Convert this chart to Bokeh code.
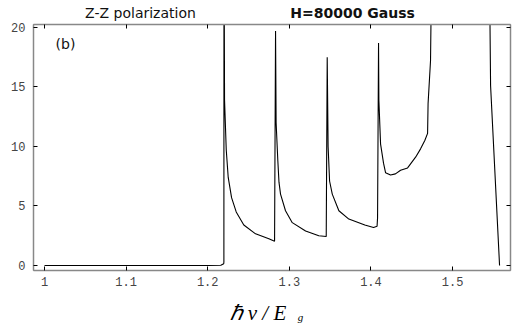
from bokeh.plotting import figure
from bokeh.models import LinearAxis, Label, Range1d
from bokeh.embed import file_html
from bokeh.resources import INLINE

# photon energy (hbar*nu / Eg)
x = [1.0, 1.2, 1.216, 1.2196, 1.2198, 1.2199, 1.2206, 1.2227, 1.2251, 1.2292, 1.2349,
     1.2442, 1.2586, 1.2749, 1.2819, 1.2831, 1.2838, 1.2859, 1.2873, 1.2892, 1.2953,
     1.3036, 1.3199, 1.3361, 1.3452, 1.3464, 1.3475, 1.3493, 1.3526, 1.3607, 1.3729,
     1.3925, 1.4032, 1.4075, 1.4081, 1.4093, 1.4097, 1.4118, 1.4154, 1.4179, 1.4240,
     1.4300, 1.4363, 1.4449, 1.4547, 1.4608, 1.4660, 1.4694, 1.4700, 1.4730, 1.4752,
     1.5445, 1.5466, 1.5576]
# absorption (arb. units)
y = [0.0, 0.0, 0.02, 0.15, 0.3, 30.0, 13.9, 9.7, 7.4, 5.7, 4.5,
     3.4, 2.66, 2.24, 2.04, 19.7, 12.0, 8.8, 7.0, 6.0, 4.6,
     3.6, 2.9, 2.5, 2.44, 17.5, 10.0, 7.1, 6.0, 4.6, 3.9,
     3.4, 3.2, 3.3, 4.0, 18.7, 13.9, 10.2, 8.6, 7.8, 7.6,
     7.7, 8.0, 8.2, 9.1, 9.8, 10.5, 11.1, 13.6, 17.2, 30.0,
     30.0, 15.1, 0.0]

x_ticks = [1.0, 1.1, 1.2, 1.3, 1.4, 1.5]
x_tick_labels = ["1", "1.1", "1.2", "1.3", "1.4", "1.5"]
y_ticks = [0, 5, 10, 15, 20]
y_tick_labels = ["0", "5", "10", "15", "20"]

title_left = "Z-Z polarization"
title_right = "H=80000 Gauss"
panel_tag = "(b)"
xlabel_main = "ℏ ν / E"
xlabel_sub = "g"

p = figure(width=519, height=331, output_backend="svg", toolbar_location=None,
           x_range=Range1d(0.9865, 1.571), y_range=Range1d(-0.42, 20.25),
           min_border_left=33, min_border_right=9, min_border_top=24,
           min_border_bottom=61)
p.background_fill_color = "white"
p.border_fill_color = "white"
p.outline_line_color = "#888888"
p.outline_line_width = 1
p.xgrid.visible = False
p.ygrid.visible = False

p.line(x, y, line_color="black", line_width=1.1)

def style_axis(ax, ticks, labels, show_labels):
    ax.ticker = ticks
    ax.ticker.num_minor_ticks = 5
    ax.axis_line_color = "#888888"
    ax.axis_line_width = 1.5
    ax.major_tick_in = 4
    ax.major_tick_out = 0
    ax.minor_tick_in = 2
    ax.minor_tick_out = 0
    ax.major_tick_line_color = "black"
    ax.minor_tick_line_color = "black"
    if show_labels:
        ax.major_label_overrides = {t: l for t, l in zip(ticks, labels)}
        ax.major_label_text_font = "Liberation Mono"
        ax.major_label_text_font_size = "12px"
        ax.major_label_text_color = "#444444"
    else:
        ax.major_label_text_color = None
        ax.major_label_standoff = 0

xa = p.xaxis[0]
ya = p.yaxis[0]
style_axis(xa, x_ticks, x_tick_labels, True)
style_axis(ya, y_ticks, y_tick_labels, True)
xa.major_label_standoff = 6
ya.major_label_standoff = 8

top_ax = LinearAxis()
right_ax = LinearAxis()
style_axis(top_ax, x_ticks, x_tick_labels, False)
style_axis(right_ax, y_ticks, y_tick_labels, False)
p.add_layout(top_ax, "above")
p.add_layout(right_ax, "right")

# in-frame panel tag
p.add_layout(Label(x=1.0135, y=18.57, text=panel_tag, text_align="left",
                   text_baseline="middle", text_font="DejaVu Sans",
                   text_font_size="14px", text_color="#111111"))

# texts outside the frame live in side panels (so they are not clipped),
# positioned by data coordinates
p.add_layout(Label(x=1.1176, y=21.18, text=title_left, text_align="center",
                   text_baseline="middle", text_font="DejaVu Sans",
                   text_font_size="14px", text_color="#111111"), "above")
p.add_layout(Label(x=1.3775, y=21.18, text=title_right, text_align="center",
                   text_baseline="middle", text_font="DejaVu Sans",
                   text_font_style="bold", text_font_size="14px",
                   text_color="#111111"), "below")
p.add_layout(Label(x=1.2267, y=-3.95, text=xlabel_main, text_align="left",
                   text_baseline="middle", text_font="Liberation Serif",
                   text_font_style="italic", text_font_size="21px",
                   text_color="black"), "below")
p.add_layout(Label(x=1.3137, y=-4.29, text=xlabel_sub, text_align="center",
                   text_baseline="middle", text_font="Liberation Serif",
                   text_font_style="italic", text_font_size="11px",
                   text_color="black"), "left")

open("out.html", "w").write(file_html(p, INLINE))
